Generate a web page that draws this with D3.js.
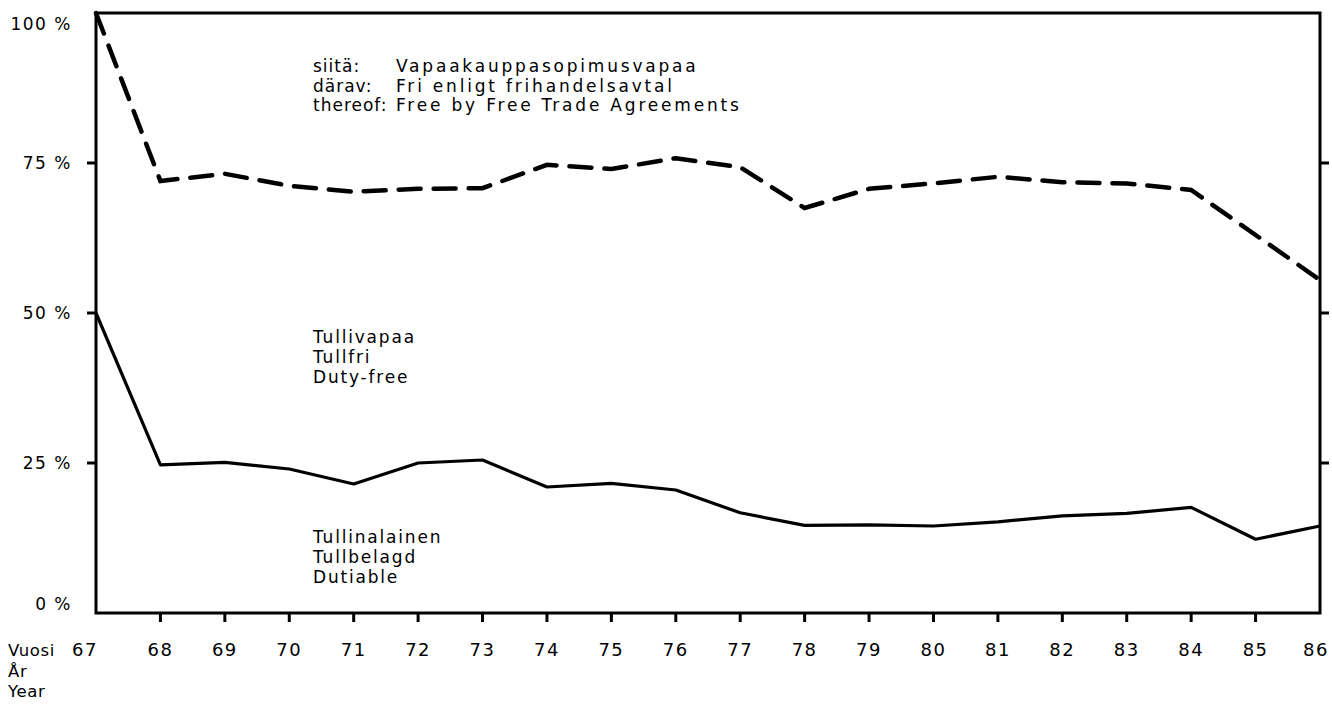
<!DOCTYPE html>
<html>
<head>
<meta charset="utf-8">
<script src="https://cdn.jsdelivr.net/npm/d3@7"></script>
<style>
  html, body { margin: 0; padding: 0; background: #fff; }
  svg text { font-family: "DejaVu Sans", "Open Sans", sans-serif; fill: #000; }
</style>
</head>
<body>
<svg id="chart" width="1332" height="705"></svg>
<script>
const years = [67,68,69,70,71,72,73,74,75,76,77,78,79,80,81,82,83,84,85,86];
const freeTradeShare = [100,72,73.2,71.2,70.2,70.7,70.8,74.7,74,75.8,74.3,67.5,70.7,71.6,72.7,71.8,71.6,70.5,63,55.5];
const dutiableShare = [50,24.7,25.1,24,21.5,25,25.5,21,21.6,20.5,16.7,14.6,14.7,14.5,15.2,16.2,16.6,17.6,12.3,14.5];
const yTicks = [0,25,50,75,100];
const yTickLabels = ["0 %","25 %","50 %","75 %","100 %"];
const xAxisTitle = ["Vuosi","År","Year"];
const topNoteLeft = ["siitä:","därav:","thereof:"];
const topNoteRight = ["Vapaakauppasopimusvapaa","Fri enligt frihandelsavtal","Free by Free Trade Agreements"];
const midNote = ["Tullivapaa","Tullfri","Duty-free"];
const lowNote = ["Tullinalainen","Tullbelagd","Dutiable"];

(function(){
const svg = d3.select("#chart");
const pL = 96, pR = 1320, pT = 13, pB = 613;
const x = d3.scaleLinear().domain([67,86]).range([pL,pR]);
const y = d3.scaleLinear().domain([0,100]).range([pB,pT]);

svg.append("rect").attr("x",pL).attr("y",pT).attr("width",pR-pL).attr("height",pB-pT)
  .attr("fill","none").attr("stroke","#000").attr("stroke-width",3);

const innerY = yTicks.filter(d => d>0 && d<100);
svg.append("g").selectAll("line").data(innerY).join("line")
  .attr("x1",pL-9).attr("x2",pL).attr("y1",d=>y(d)).attr("y2",d=>y(d))
  .attr("stroke","#000").attr("stroke-width",3);
svg.append("g").selectAll("line").data(innerY).join("line")
  .attr("x1",pR).attr("x2",pR+9).attr("y1",d=>y(d)).attr("y2",d=>y(d))
  .attr("stroke","#000").attr("stroke-width",3);
svg.append("g").selectAll("text").data(yTicks).join("text")
  .attr("x",72).attr("y",d => d===100 ? y(d)+17 : (d===0 ? y(d)-3 : y(d)+6))
  .attr("text-anchor","end").attr("font-size",17).attr("letter-spacing",1.5)
  .text((d,i)=>yTickLabels[i]);

svg.append("g").selectAll("line").data(years.slice(1,-1)).join("line")
  .attr("x1",d=>x(d)).attr("x2",d=>x(d)).attr("y1",pB).attr("y2",pB+9)
  .attr("stroke","#000").attr("stroke-width",3);
svg.append("g").selectAll("text").data(years).join("text")
  .attr("x",d=>x(d)).attr("y",656).attr("text-anchor","middle")
  .attr("font-size",18).attr("letter-spacing",1.5)
  .attr("dx", d => d===67 ? -11 : (d===86 ? -4 : 0))
  .text(d=>d);
svg.append("g").selectAll("text").data(xAxisTitle).join("text")
  .attr("x",8).attr("y",(d,i)=>656+i*20.5).attr("font-size",16.5).attr("letter-spacing",0.6)
  .text(d=>d);

const line = d3.line().x((d,i)=>x(years[i])).y(d=>y(d));
svg.append("path").datum(freeTradeShare).attr("d",line)
  .attr("fill","none").attr("stroke","#000").attr("stroke-width",4.5)
  .attr("stroke-dasharray","22,13").attr("stroke-linecap","round");
svg.append("path").datum(dutiableShare).attr("d",line)
  .attr("fill","none").attr("stroke","#000").attr("stroke-width",3.2)
  .attr("stroke-linejoin","round");

const fs = 17, ls = 1.8;
svg.append("g").selectAll("text").data(topNoteLeft).join("text")
  .attr("x",313).attr("y",(d,i)=>72+i*19.5).attr("font-size",fs).attr("letter-spacing",1.0).text(d=>d);
svg.append("g").selectAll("text").data(topNoteRight).join("text")
  .attr("x",396).attr("y",(d,i)=>72+i*19.5).attr("font-size",fs).attr("letter-spacing",2.8).text(d=>d);
svg.append("g").selectAll("text").data(midNote).join("text")
  .attr("x",313).attr("y",(d,i)=>343+i*20).attr("font-size",fs).attr("letter-spacing",ls).text(d=>d);
svg.append("g").selectAll("text").data(lowNote).join("text")
  .attr("x",313).attr("y",(d,i)=>543+i*20).attr("font-size",fs).attr("letter-spacing",ls).text(d=>d);
})();
</script>
</body>
</html>
